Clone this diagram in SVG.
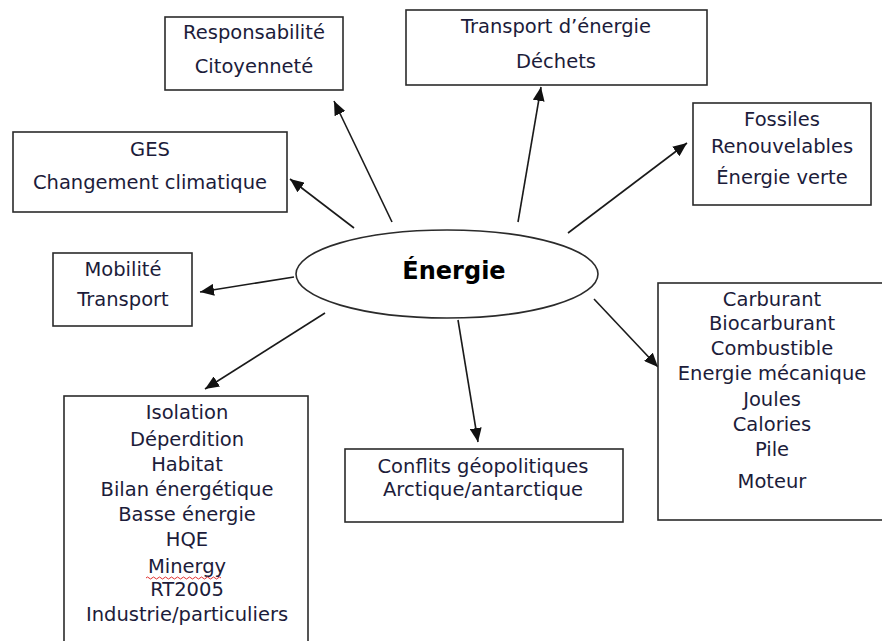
<svg xmlns="http://www.w3.org/2000/svg" width="882" height="641" viewBox="0 0 882 641">
<defs>
<style>
.box{fill:#fff;stroke:#2b2b2b;stroke-width:1.6}
.t{font-family:"DejaVu Sans","Liberation Sans",sans-serif;font-size:19.5px;fill:#1c1c3a;text-anchor:middle}
.c{stroke:#1a1a1a;stroke-width:1.6;fill:none;marker-end:url(#ah)}
</style>
<marker id="ah" markerUnits="userSpaceOnUse" markerWidth="14" markerHeight="12" refX="14" refY="6" orient="auto">
<path d="M0,0 L14,6 L0,12 z" fill="#111"/>
</marker>
</defs>
<rect width="882" height="641" fill="#fff"/>
<g id="connectors">
<line class="c" x1="392" y1="222" x2="334" y2="101"/>
<line class="c" x1="518" y1="222" x2="541" y2="87"/>
<line class="c" x1="354" y1="228" x2="290" y2="179"/>
<line class="c" x1="294" y1="277" x2="200" y2="292"/>
<line class="c" x1="325" y1="313" x2="205" y2="389"/>
<line class="c" x1="458" y1="320" x2="478" y2="442"/>
<line class="c" x1="594" y1="299" x2="658" y2="367"/>
<line class="c" x1="568" y1="233" x2="687" y2="143"/>
</g>
<g id="energie">
<ellipse cx="447" cy="274" rx="151" ry="44" fill="#fff" stroke="#2b2b2b" stroke-width="1.6"/>
<text x="454" y="279" font-family="'DejaVu Sans','Liberation Sans',sans-serif" font-size="24" font-weight="bold" text-anchor="middle" fill="#000">Énergie</text>
</g>
<g id="responsabilite">
<rect class="box" x="165" y="17" width="178" height="73"/>
<text class="t" x="254" y="39">Responsabilité</text>
<text class="t" x="254" y="73">Citoyenneté</text>
</g>
<g id="transport-energie">
<rect class="box" x="406" y="10" width="301" height="75"/>
<text class="t" x="556" y="33">Transport d’énergie</text>
<text class="t" x="556" y="68">Déchets</text>
</g>
<g id="ges">
<rect class="box" x="13" y="132" width="274" height="80"/>
<text class="t" x="150" y="156">GES</text>
<text class="t" x="150" y="189">Changement climatique</text>
</g>
<g id="mobilite">
<rect class="box" x="53" y="253" width="139" height="73"/>
<text class="t" x="123" y="276">Mobilité</text>
<text class="t" x="123" y="306">Transport</text>
</g>
<g id="fossiles">
<rect class="box" x="693" y="103" width="178" height="102"/>
<text class="t" x="782" y="126">Fossiles</text>
<text class="t" x="782" y="153">Renouvelables</text>
<text class="t" x="782" y="184">Énergie verte</text>
</g>
<g id="carburant">
<rect class="box" x="658" y="283" width="230" height="237"/>
<text class="t" x="772" y="306">Carburant</text>
<text class="t" x="772" y="330">Biocarburant</text>
<text class="t" x="772" y="355">Combustible</text>
<text class="t" x="772" y="380">Energie mécanique</text>
<text class="t" x="772" y="406">Joules</text>
<text class="t" x="772" y="431">Calories</text>
<text class="t" x="772" y="456">Pile</text>
<text class="t" x="772" y="488">Moteur</text>
</g>
<g id="isolation">
<rect class="box" x="64" y="396" width="244" height="260"/>
<text class="t" x="187" y="419">Isolation</text>
<text class="t" x="187" y="446">Déperdition</text>
<text class="t" x="187" y="471">Habitat</text>
<text class="t" x="187" y="496">Bilan énergétique</text>
<text class="t" x="187" y="521">Basse énergie</text>
<text class="t" x="187" y="546">HQE</text>
<text class="t" x="187" y="573">Minergy</text>
<text class="t" x="187" y="596">RT2005</text>
<text class="t" x="187" y="621">Industrie/particuliers</text>
<path d="M146,578 q1.5,-2 3,0 t3,0 t3,0 t3,0 t3,0 t3,0 t3,0 t3,0 t3,0 t3,0 t3,0 t3,0 t3,0 t3,0 t3,0 t3,0 t3,0 t3,0 t3,0 t3,0 t3,0 t3,0 t3,0 t3,0 t3,0" fill="none" stroke="#e03030" stroke-width="1"/>
</g>
<g id="conflits">
<rect class="box" x="345" y="449" width="278" height="73"/>
<text class="t" x="483" y="473">Conflits  géopolitiques</text>
<text class="t" x="483" y="496">Arctique/antarctique</text>
</g>
</svg>
